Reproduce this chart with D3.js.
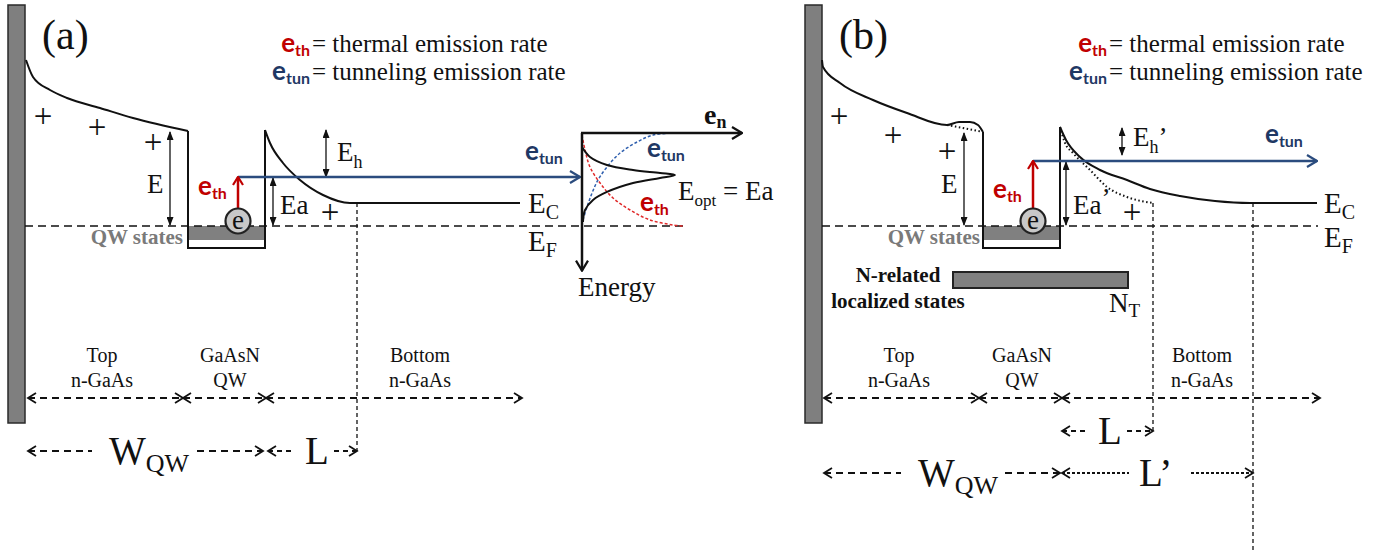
<!DOCTYPE html>
<html>
<head>
<meta charset="utf-8">
<script src="https://cdn.jsdelivr.net/npm/d3@7"></script>
<style>
  body { margin: 0; background: #fff; }
</style>
</head>
<body>
<div id="chart"></div>
<script>
// band diagram data: [depth from metal surface, energy above E_F] (both in px-like units)
const bandLeftA  = [[1,166],[8,149],[25,136],[42,128],[75,118],[108,108],[163,95]];
const bandRightA = [[240,96],[245,83],[258,63],[275,46],[298,31],[325,23],[333,23],[495,23]];
const bandLeftB  = [[0,166],[1,159],[18,143],[51,126],[85,113],[125,101],[137,104],[148,104],[156,101],[161,94]];
const bandLeftDotB = [[125,101],[141,98],[161,94]];
const bandRightB = [[238,99],[244,86],[258,69],[278,56],[305,46],[328,37],[358,30],[393,25],[428,23],[495,23]];
const bandRightDotB = [[238,99],[243,83],[251,73],[268,56],[285,39],[305,29],[331,23]];

const qwA = [163, 240], qwB = [161, 238];     // well walls
const qwBottom = -22, qwStates = [0, -14];     // well floor, filled QW states
const levelA = 49, levelB = 65;                // emission level
const tunnelA = [213, 555], tunnelB = [211, 495];
const fermiA = [0, 658], fermiB = [0, 496];
const ecLevel = 23;
const plusA = [[18,109],[72,98],[128,83],[305,13]];
const plusB = [[17,109],[71,90],[125,74],[310,13]];
const nStatesB = [[131, 306], [-46, -62]];     // N-related localized states band
const regionsA = [3, 158, 241, 497];
const regionsB = [2, 157, 240, 498];
const regionNames = [["Top", "n-GaAs"], ["GaAsN", "QW"], ["Bottom", "n-GaAs"]];

// inset of (a): emission rate (x) vs energy depth (y), both 0..1
const gaussA = [[0,0.151],[0.05,0.258],[0.156,0.344],[0.319,0.398],[0.488,0.430],[0.581,0.452],
                [0.488,0.484],[0.319,0.538],[0.156,0.634],[0.069,0.720],[0.019,0.828],[0.006,0.957]];
const tunRateA = [[0.006,0.935],[0.031,0.796],[0.063,0.645],[0.1,0.505],[0.156,0.366],[0.238,0.215],
                  [0.344,0.097],[0.444,0.022],[0.569,0]];
const thRateA = [[0,0.022],[0.019,0.183],[0.05,0.366],[0.113,0.538],[0.194,0.699],[0.3,0.828],
                 [0.425,0.935],[0.569,0.989],[0.631,1.0]];

const W = 1380, H = 551;
const RED = "#c00000", NAVY = "#1f3864", BLUE_LINE = "#2b4c7e", INK = "#111";
const serif = "'Liberation Serif','Times New Roman',serif";
const sans = "Lato,'Open Sans',sans-serif";

const svg = d3.select("#chart").append("svg").attr("width", W).attr("height", H);
svg.append("rect").attr("width", W).attr("height", H).attr("fill", "#fff");

const defs = svg.append("defs");
function addMarker(id, color, w, h, open) {
  const m = defs.append("marker").attr("id", id).attr("markerUnits", "userSpaceOnUse")
    .attr("viewBox", `0 0 ${w} ${h}`).attr("refX", w - 1).attr("refY", h / 2)
    .attr("markerWidth", w).attr("markerHeight", h).attr("orient", "auto-start-reverse");
  if (open) {
    m.append("path").attr("d", `M1,1 L${w - 1},${h / 2} L1,${h - 1}`)
      .attr("fill", "none").attr("stroke", color).attr("stroke-width", 2.2);
  } else {
    m.append("path").attr("d", `M0,0 L${w},${h / 2} L0,${h} Z`).attr("fill", color);
  }
}
addMarker("tri", INK, 9, 7, false);
addMarker("chevBlue", BLUE_LINE, 12, 14, true);
addMarker("chevRed", RED, 10, 12, true);
addMarker("chevBlack", INK, 12, 14, true);

const yE = d3.scaleLinear().domain([-30, 170]).range([256, 56]);

// text with optional subscript
function label(g, x, y, main, subTxt, o = {}) {
  const size = o.size || 26;
  const t = g.append("text").attr("x", x).attr("y", y)
    .attr("font-family", o.family || serif).attr("font-size", size)
    .attr("font-weight", o.weight || "normal").attr("fill", o.color || INK)
    .attr("text-anchor", o.anchor || "start");
  t.append("tspan").text(main);
  const dy = o.subDy || Math.round(size * 0.25);
  if (subTxt) t.append("tspan").attr("font-size", o.subSize || Math.round(size * 0.66)).attr("dy", dy).text(subTxt);
  if (o.after) t.append("tspan").attr("dy", -dy).text(o.after);
  return t;
}

function dblArrow(g, x, y1, y2) {
  g.append("line").attr("x1", x).attr("x2", x).attr("y1", y1).attr("y2", y2)
    .attr("stroke", INK).attr("stroke-width", 1.3)
    .attr("marker-start", "url(#tri)").attr("marker-end", "url(#tri)");
}

function dimArrow(g, x1, x2, y, dash, gap) {
  const segs = gap ? [[x1, gap[0]], [gap[1], x2]] : [[x1, x2]];
  segs.forEach(([a, b]) => g.append("line").attr("x1", a).attr("x2", b).attr("y1", y).attr("y2", y)
    .attr("stroke", INK).attr("stroke-width", 1.8).attr("stroke-dasharray", dash));
  [[x1, 1], [x2, -1]].forEach(([x, s]) => g.append("path")
    .attr("d", `M${x + 8 * s},${y - 5} L${x},${y} L${x + 8 * s},${y + 5}`)
    .attr("fill", "none").attr("stroke", INK).attr("stroke-width", 1.8));
}

function legend(g, xEq) {
  [["th", RED, "= thermal emission rate", 52], ["tun", NAVY, "= tunneling emission rate", 80]].forEach(([s, c, txt, y]) => {
    label(g, xEq - 1, y, "e", s, { family: sans, weight: "bold", size: 26, subSize: 16, subDy: 4, color: c, anchor: "end" });
    g.append("text").attr("x", xEq + 1).attr("y", y).attr("font-family", serif).attr("font-size", 25)
      .attr("fill", INK).text(txt);
  });
}

function drawPanel(p) {
  const g = svg.append("g");
  const xs = d3.scaleLinear().domain([0, 500]).range([p.x0, p.x0 + 500]);
  const line = d3.line().x(d => xs(d[0])).y(d => yE(d[1])).curve(d3.curveMonotoneX);

  // metal contact
  g.append("rect").attr("x", xs(-17)).attr("y", 5).attr("width", 17).attr("height", 418)
    .attr("fill", "#7f7f7f").attr("stroke", "#2a2a2a").attr("stroke-width", 1.5);

  label(g, xs(17), 49, p.tag, null, { size: 42 });
  legend(g, xs(286));

  // QW states band
  g.append("rect").attr("x", xs(p.qw[0])).attr("width", xs(p.qw[1]) - xs(p.qw[0]))
    .attr("y", yE(qwStates[0])).attr("height", yE(qwStates[1]) - yE(qwStates[0])).attr("fill", "#808080");
  g.append("text").attr("x", xs(158)).attr("y", 244).attr("text-anchor", "end")
    .attr("font-family", serif).attr("font-weight", "bold").attr("font-size", 21).attr("fill", "#7a7a7a")
    .text("QW states");

  // Fermi level
  g.append("line").attr("x1", xs(p.fermi[0])).attr("x2", xs(p.fermi[1])).attr("y1", yE(0)).attr("y2", yE(0))
    .attr("stroke", INK).attr("stroke-width", 1.5).attr("stroke-dasharray", "8,5");

  // conduction band
  const wellTopL = p.left[p.left.length - 1][1], wellTopR = p.right[0][1];
  g.append("path").attr("d", line(p.left)).attr("fill", "none").attr("stroke", INK).attr("stroke-width", 2);
  g.append("path").attr("d", line(p.right)).attr("fill", "none").attr("stroke", INK).attr("stroke-width", 2);
  g.append("path").attr("d", d3.line()([[xs(p.qw[0]), yE(wellTopL)], [xs(p.qw[0]), yE(qwBottom)],
      [xs(p.qw[1]), yE(qwBottom)], [xs(p.qw[1]), yE(wellTopR)]]))
    .attr("fill", "none").attr("stroke", INK).attr("stroke-width", 2);
  (p.dotted || []).forEach(d => g.append("path").attr("d", line(d)).attr("fill", "none")
    .attr("stroke", INK).attr("stroke-width", 2).attr("stroke-dasharray", "1.5,2.5"));

  // depletion edges
  p.edges.forEach(([dx, yEnd]) => g.append("line").attr("x1", xs(dx)).attr("x2", xs(dx))
    .attr("y1", yE(ecLevel)).attr("y2", yEnd).attr("stroke", INK).attr("stroke-width", 1.3)
    .attr("stroke-dasharray", "4,3"));

  // plus signs
  p.plus.forEach(([dx, e]) => g.append("text").attr("x", xs(dx)).attr("y", yE(e) + 10)
    .attr("text-anchor", "middle").attr("font-family", serif).attr("font-size", 33).attr("fill", INK).text("+"));

  // energy markers
  dblArrow(g, xs(p.eArrow), yE(wellTopL) + 1, yE(0) - 1);
  label(g, xs(p.eArrow) - 23, 193, "E", null, { size: 27 });
  dblArrow(g, xs(p.eaArrow), yE(p.level) + 1, yE(0) - 1);
  label(g, xs(p.eaArrow) + 7, 214, "Ea", null, { size: 27, after: p.prime ? "’" : null });
  dblArrow(g, xs(p.ehArrow[0]), yE(p.ehArrow[1]), yE(p.ehArrow[2]));
  label(g, xs(p.ehArrow[0]) + 11, p.ehY, "E", "h", { size: 27, subSize: 18, after: p.prime ? "’" : null });

  // tunneling path and thermal emission
  g.append("line").attr("x1", xs(p.tunnel[0])).attr("x2", xs(p.tunnel[1]))
    .attr("y1", yE(p.level)).attr("y2", yE(p.level))
    .attr("stroke", BLUE_LINE).attr("stroke-width", 2.5).attr("marker-end", "url(#chevBlue)");
  label(g, p.tunLabel[0], p.tunLabel[1], "e", "tun", { family: sans, weight: "bold", size: 26, subSize: 16, subDy: 4, color: NAVY });

  g.append("line").attr("x1", xs(p.tunnel[0])).attr("x2", xs(p.tunnel[0]))
    .attr("y1", yE(17)).attr("y2", yE(p.level))
    .attr("stroke", RED).attr("stroke-width", 2.5).attr("marker-end", "url(#chevRed)");
  label(g, xs(p.tunnel[0]) - 40, p.thY, "e", "th", { family: sans, weight: "bold", size: 26, subSize: 16, subDy: 4, color: RED });

  g.append("circle").attr("cx", xs(p.tunnel[0])).attr("cy", yE(5)).attr("r", 12.5)
    .attr("fill", "#c8c8c8").attr("stroke", "#222").attr("stroke-width", 2.2);
  g.append("text").attr("x", xs(p.tunnel[0])).attr("y", yE(5) + 8).attr("text-anchor", "middle")
    .attr("font-family", serif).attr("font-size", 27).attr("fill", INK).text("e");

  // Ec / Ef labels
  label(g, p.ecX, 213, "E", "C", { size: 29, subSize: 20, subDy: 6 });
  label(g, p.ecX, p.efY, "E", "F", { size: 29, subSize: 20, subDy: 6 });

  // regions
  for (let i = 0; i < 3; i++) {
    dimArrow(g, xs(p.regions[i]), xs(p.regions[i + 1]), 398, "7,5");
    regionNames[i].forEach((t, j) => g.append("text").attr("x", xs(p.regionLabelX[i])).attr("y", 362 + j * 25)
      .attr("text-anchor", "middle").attr("font-family", serif).attr("font-size", 20).attr("fill", INK).text(t));
  }
  return { g, xs };
}

// ---------- panel (a)
const pa = drawPanel({
  tag: "(a)", x0: 25, left: bandLeftA, right: bandRightA, qw: qwA, level: levelA, tunnel: tunnelA,
  fermi: fermiA, plus: plusA, eArrow: 145, eaArrow: 248, ehArrow: [301, 96, 49], ehY: 161,
  thY: 195, tunLabel: [525, 160], ecX: 528, efY: 251, prime: false,
  edges: [[332, 451]], regions: regionsA, regionLabelX: [77, 205, 395]
});
{
  const { g, xs } = pa;
  dimArrow(g, xs(3), xs(238), 451, "7,5", [92, 197]);
  label(g, 109, 464, "W", "QW", { size: 39, subSize: 26, subDy: 8 });
  dimArrow(g, xs(243), xs(332), 451, "5,4", [294, 334]);
  label(g, 305, 464, "L", null, { size: 39 });

  // inset: emission rates versus energy
  const ix = d3.scaleLinear().domain([0, 1]).range([582, 742]);
  const iy = d3.scaleLinear().domain([0, 1]).range([133, 226]);
  const il = d3.line().x(d => ix(d[0])).y(d => iy(d[1])).curve(d3.curveCatmullRom);
  g.append("path").attr("d", il(tunRateA)).attr("fill", "none").attr("stroke", "#2f5fae")
    .attr("stroke-width", 1.5).attr("stroke-dasharray", "3,2");
  g.append("path").attr("d", il(thRateA)).attr("fill", "none").attr("stroke", "#e02a2a")
    .attr("stroke-width", 1.5).attr("stroke-dasharray", "3,2");
  g.append("path").attr("d", il(gaussA)).attr("fill", "none").attr("stroke", INK).attr("stroke-width", 2);
  g.append("line").attr("x1", ix(0)).attr("x2", ix(0)).attr("y1", iy(0)).attr("y2", iy(1.48))
    .attr("stroke", INK).attr("stroke-width", 2.5).attr("marker-end", "url(#chevBlack)");
  g.append("line").attr("x1", ix(0) - 1).attr("x2", ix(1)).attr("y1", iy(0)).attr("y2", iy(0))
    .attr("stroke", INK).attr("stroke-width", 2.5).attr("marker-end", "url(#chevBlack)");
  label(g, 704, 124, "e", "n", { size: 28, subSize: 18, weight: "bold", subDy: 4 });
  label(g, 578, 296, "Energy", null, { size: 27 });
  const eo = label(g, 678, 200, "E", "opt", { size: 27, subSize: 17, subDy: 6 });
  eo.append("tspan").attr("dy", -6).text(" = Ea");
  label(g, 647, 157, "e", "tun", { family: sans, weight: "bold", size: 26, subSize: 16, subDy: 4, color: NAVY });
  label(g, 640, 211, "e", "th", { family: sans, weight: "bold", size: 26, subSize: 16, subDy: 4, color: RED });
}

// ---------- panel (b)
const pb = drawPanel({
  tag: "(b)", x0: 822, left: bandLeftB, right: bandRightB, qw: qwB, level: levelB, tunnel: tunnelB,
  fermi: fermiB, plus: plusB, eArrow: 142, eaArrow: 244, ehArrow: [300, 98, 71], ehY: 146,
  thY: 198, tunLabel: [1265, 143], ecX: 1324, efY: 247, prime: true,
  dotted: [bandLeftDotB, bandRightDotB],
  edges: [[331, 431], [431, 551]], regions: regionsB, regionLabelX: [77, 200, 380]
});
{
  const { g, xs } = pb;
  g.append("rect").attr("x", xs(nStatesB[0][0])).attr("width", xs(nStatesB[0][1]) - xs(nStatesB[0][0]))
    .attr("y", yE(nStatesB[1][0])).attr("height", yE(nStatesB[1][1]) - yE(nStatesB[1][0]))
    .attr("fill", "#808080").attr("stroke", "#222").attr("stroke-width", 2);
  ["N-related", "localized states"].forEach((t, j) => g.append("text").attr("x", 898).attr("y", 282 + j * 26)
    .attr("text-anchor", "middle").attr("font-family", serif).attr("font-weight", "bold")
    .attr("font-size", 21).attr("fill", INK).text(t));
  label(g, 1109, 312, "N", "T", { size: 27, subSize: 19, subDy: 5 });

  dimArrow(g, xs(240), xs(331), 431, "5,4", [1089, 1127]);
  label(g, 1098, 444, "L", null, { size: 39 });
  dimArrow(g, xs(2), xs(238), 473, "7,5", [901, 1005]);
  label(g, 918, 486, "W", "QW", { size: 39, subSize: 26, subDy: 8 });
  dimArrow(g, xs(240), xs(431), 473, "3,2", [1129, 1191]);
  label(g, 1139, 486, "L’", null, { size: 39 });
}
</script>
</body>
</html>
